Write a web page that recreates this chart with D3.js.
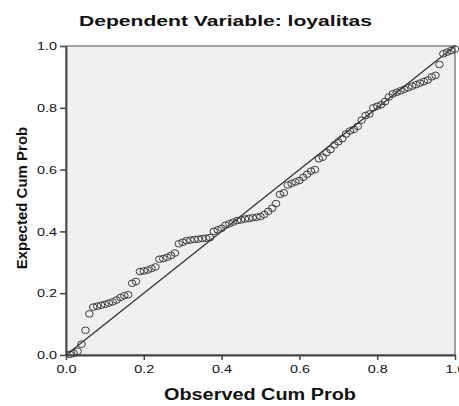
<!DOCTYPE html>
<html>
<head>
<meta charset="utf-8">
<script src="https://cdn.jsdelivr.net/npm/d3@7/dist/d3.min.js"></script>
<style>
  html, body { margin: 0; padding: 0; background: #ffffff; }
  svg { display: block; }
</style>
</head>
<body>
<svg id="chart" width="459" height="406"></svg>
<script>
// ---- Data ----
const chartTitle = "Dependent Variable: loyalitas";
const xAxisLabel = "Observed Cum Prob";
const yAxisLabel = "Expected Cum Prob";

const observedCumProb = [
  0.01, 0.02, 0.03, 0.04, 0.05, 0.06, 0.07, 0.08, 0.09, 0.10,
  0.11, 0.12, 0.13, 0.14, 0.15, 0.16, 0.17, 0.18, 0.19, 0.20,
  0.21, 0.22, 0.23, 0.24, 0.25, 0.26, 0.27, 0.28, 0.29, 0.30,
  0.31, 0.32, 0.33, 0.34, 0.35, 0.36, 0.37, 0.38, 0.39, 0.40,
  0.41, 0.42, 0.43, 0.44, 0.45, 0.46, 0.47, 0.48, 0.49, 0.50,
  0.51, 0.52, 0.53, 0.54, 0.55, 0.56, 0.57, 0.58, 0.59, 0.60,
  0.61, 0.62, 0.63, 0.64, 0.65, 0.66, 0.67, 0.68, 0.69, 0.70,
  0.71, 0.72, 0.73, 0.74, 0.75, 0.76, 0.77, 0.78, 0.79, 0.80,
  0.81, 0.82, 0.83, 0.84, 0.85, 0.86, 0.87, 0.88, 0.89, 0.90,
  0.91, 0.92, 0.93, 0.94, 0.95, 0.96, 0.97, 0.98, 0.99, 1.00
];
const expectedCumProb = [
  0.002, 0.005, 0.012, 0.035, 0.080, 0.133, 0.155, 0.158, 0.161, 0.164,
  0.168, 0.172, 0.178, 0.186, 0.192, 0.195, 0.232, 0.238, 0.270, 0.272,
  0.275, 0.280, 0.285, 0.310, 0.312, 0.316, 0.322, 0.330, 0.360, 0.365,
  0.370, 0.372, 0.374, 0.375, 0.377, 0.378, 0.380, 0.400, 0.405, 0.410,
  0.420, 0.425, 0.430, 0.435, 0.437, 0.440, 0.442, 0.444, 0.446, 0.448,
  0.455, 0.465, 0.475, 0.490, 0.520, 0.525, 0.550, 0.555, 0.560, 0.565,
  0.575, 0.585, 0.595, 0.600, 0.635, 0.640, 0.655, 0.665, 0.680, 0.690,
  0.700, 0.715, 0.725, 0.730, 0.740, 0.760, 0.775, 0.780, 0.800, 0.805,
  0.810, 0.820, 0.835, 0.845, 0.850, 0.855, 0.860, 0.865, 0.870, 0.875,
  0.880, 0.885, 0.890, 0.900, 0.905, 0.940, 0.975, 0.980, 0.985, 0.990
];
const refLine = [0, 1];
const tickValues = [0, 0.2, 0.4, 0.6, 0.8, 1.0];
const tickLabels = ["0.0", "0.2", "0.4", "0.6", "0.8", "1.0"];

// ---- Drawing ----
const svg = d3.select("#chart");
const plot = { left: 66, right: 455, top: 46, bottom: 355 };

const x = d3.scaleLinear().domain([0, 1]).range([plot.left, plot.right]);
const y = d3.scaleLinear().domain([0, 1]).range([plot.bottom, plot.top]);

// plot background + frame
svg.append("rect")
  .attr("x", plot.left).attr("y", plot.top)
  .attr("width", plot.right - plot.left).attr("height", plot.bottom - plot.top)
  .attr("fill", "#f0f0f0")
  .attr("stroke", "#8a8a8a").attr("stroke-width", 1.6);

// reference diagonal
svg.append("line")
  .attr("x1", x(refLine[0])).attr("y1", y(refLine[0]))
  .attr("x2", x(refLine[1])).attr("y2", y(refLine[1]))
  .attr("stroke", "#333").attr("stroke-width", 1.3);

// points
svg.append("g").selectAll("ellipse")
  .data(observedCumProb.map((v, i) => [v, expectedCumProb[i]]))
  .join("ellipse")
  .attr("cx", d => x(d[0]))
  .attr("cy", d => y(d[1]))
  .attr("rx", 3.8).attr("ry", 3.3)
  .attr("fill", "none")
  .attr("stroke", "#3a3a3a")
  .attr("stroke-width", 1);

// axes
const fmt = (d) => tickLabels[tickValues.indexOf(d)];
const xAxis = svg.append("g")
  .attr("transform", `translate(0,${plot.bottom})`)
  .call(d3.axisBottom(x).tickValues(tickValues).tickFormat(fmt).tickSize(5).tickPadding(5).tickSizeOuter(0));
const yAxis = svg.append("g")
  .attr("transform", `translate(${plot.left},0)`)
  .call(d3.axisLeft(y).tickValues(tickValues).tickFormat(fmt).tickSize(6).tickPadding(3).tickSizeOuter(0));

[xAxis, yAxis].forEach(g => {
  g.select(".domain").attr("stroke", "#444").attr("stroke-width", 1.8);
  g.selectAll(".tick line").attr("stroke", "#444").attr("stroke-width", 1.5);
  g.selectAll(".tick text")
    .attr("fill", "#111")
    .style("font-family", "'Liberation Sans', Arial, sans-serif")
    .style("font-size", "11.5px")
    .attr("textLength", 20)
    .attr("lengthAdjust", "spacingAndGlyphs");
});

// title
svg.append("text")
  .attr("x", 225.5).attr("y", 26)
  .attr("text-anchor", "middle")
  .style("font-family", "'Liberation Sans', Arial, sans-serif")
  .style("font-weight", "bold").style("font-size", "15px")
  .attr("fill", "#111")
  .attr("textLength", 293).attr("lengthAdjust", "spacingAndGlyphs")
  .text(chartTitle);

// x label
svg.append("text")
  .attr("x", 260).attr("y", 400)
  .attr("text-anchor", "middle")
  .style("font-family", "'Liberation Sans', Arial, sans-serif")
  .style("font-weight", "bold").style("font-size", "16px")
  .attr("fill", "#111")
  .attr("textLength", 192).attr("lengthAdjust", "spacingAndGlyphs")
  .text(xAxisLabel);

// y label
svg.append("text")
  .attr("transform", "translate(27,198) rotate(-90)")
  .attr("text-anchor", "middle")
  .style("font-family", "'Liberation Sans', Arial, sans-serif")
  .style("font-weight", "bold").style("font-size", "15px")
  .attr("fill", "#111")
  .text(yAxisLabel);
</script>
</body>
</html>
